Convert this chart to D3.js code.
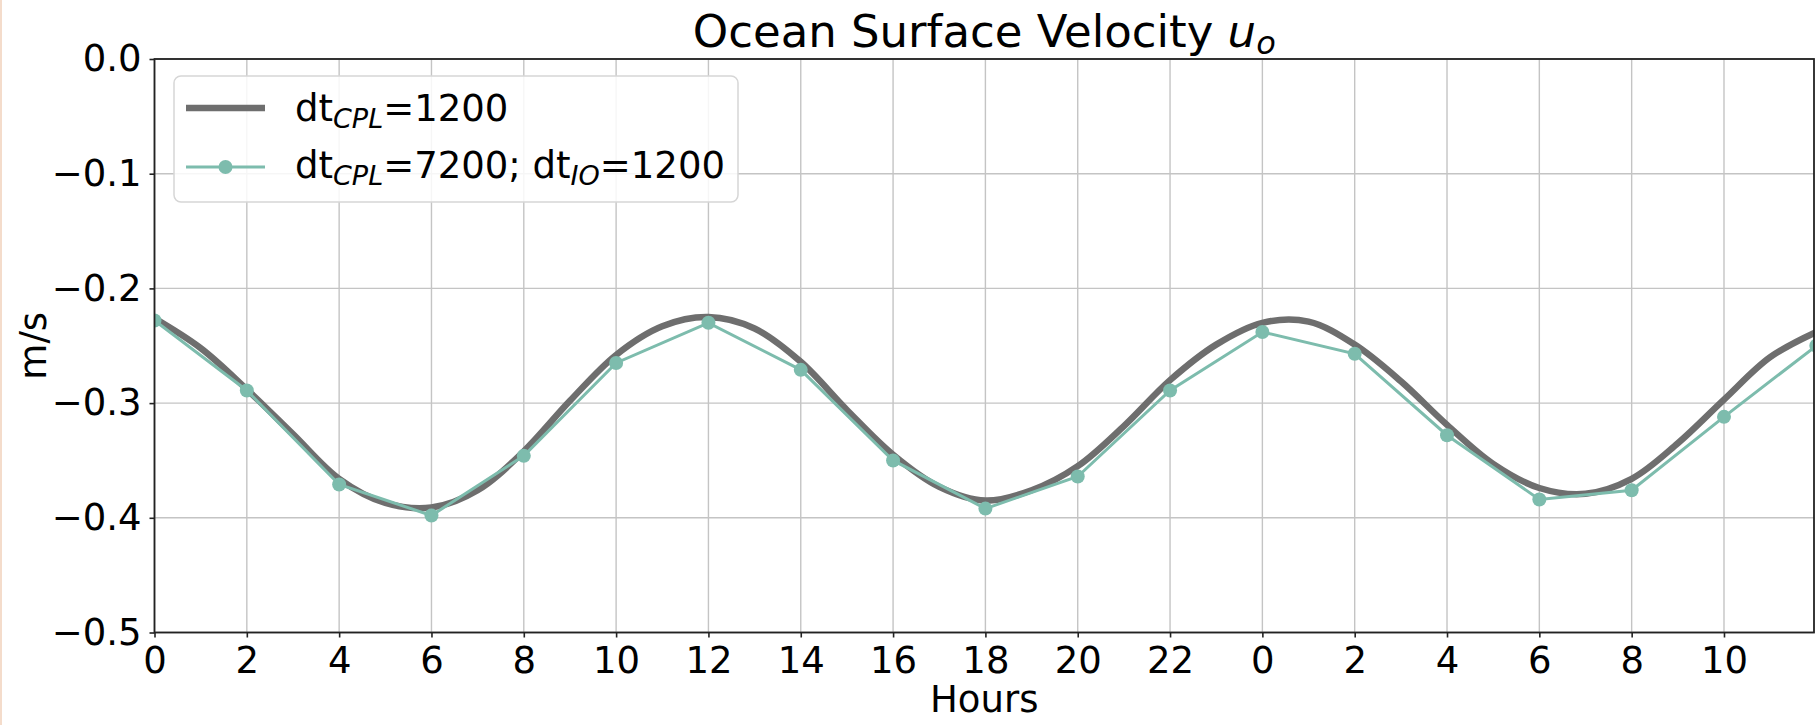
<!DOCTYPE html>
<html>
<head>
<meta charset="utf-8">
<script src="https://cdn.jsdelivr.net/npm/d3@7"></script>
<style>
  html, body { margin: 0; padding: 0; background: #fff; }
  svg { display: block; }
  text { font-family: "DejaVu Sans", sans-serif; fill: #000; }
</style>
</head>
<body>
<svg id="chart" width="1816" height="725"></svg>
<script>
// ---------- data ----------
const greyHours = [0,1,2,3,4,5,6,7,8,9,10,11,12,13,14,15,16,17,18,19,20,21,22,23,24,25,26,27,28,29,30,31,32,33,34,35,36];
const greyValues = [-0.226,-0.252,-0.288,-0.327,-0.366,-0.387,-0.391,-0.376,-0.342,-0.298,-0.258,-0.233,-0.225,-0.235,-0.264,-0.306,-0.345,-0.373,-0.385,-0.376,-0.355,-0.320,-0.280,-0.249,-0.230,-0.229,-0.249,-0.281,-0.319,-0.353,-0.374,-0.379,-0.366,-0.335,-0.297,-0.260,-0.238];
const tealHours = [0,2,4,6,8,10,12,14,16,18,20,22,24,26,28,30,32,34,36];
const tealValues = [-0.228,-0.289,-0.371,-0.398,-0.346,-0.265,-0.230,-0.271,-0.350,-0.392,-0.364,-0.289,-0.238,-0.257,-0.328,-0.384,-0.376,-0.312,-0.250];
const xTickValues = [0,2,4,6,8,10,12,14,16,18,20,22,24,26,28,30,32,34];
const xTickLabels = ["0","2","4","6","8","10","12","14","16","18","20","22","0","2","4","6","8","10"];
const yTickValues = [0,-0.1,-0.2,-0.3,-0.4,-0.5];
const yTickLabels = ["0.0","\u22120.1","\u22120.2","\u22120.3","\u22120.4","\u22120.5"];

// ---------- layout ----------
const L = 154.5, R = 1814, T = 59, B = 632.5;
const GREY = "#6e6e6e", TEAL = "#7dbcad";
const FS = 37;

const svg = d3.select("#chart");
svg.append("rect").attr("x",0).attr("y",0).attr("width",2).attr("height",725).attr("fill","#f4dccb");

const x = d3.scaleLinear().domain([0, 35.95]).range([L, R]);
const y = d3.scaleLinear().domain([-0.5, 0]).range([B, T]);

// grid
const grid = svg.append("g");
grid.selectAll("line.vx").data(xTickValues).enter().append("line")
  .attr("x1", d => x(d)).attr("x2", d => x(d)).attr("y1", T).attr("y2", B)
  .attr("stroke", "#c4c4c4").attr("stroke-width", 1.4);
grid.selectAll("line.hy").data(yTickValues).enter().append("line")
  .attr("x1", L).attr("x2", R).attr("y1", d => y(d)).attr("y2", d => y(d))
  .attr("stroke", "#c4c4c4").attr("stroke-width", 1.4);

// clip
svg.append("clipPath").attr("id","clip").append("rect")
  .attr("x", L).attr("y", T).attr("width", R - L).attr("height", B - T);

const plot = svg.append("g").attr("clip-path","url(#clip)");

const greyData = greyHours.map((h,i) => [h, greyValues[i]]);
const tealData = tealHours.map((h,i) => [h, tealValues[i]]);

plot.append("path").datum(greyData)
  .attr("d", d3.line().x(d => x(d[0])).y(d => y(d[1])).curve(d3.curveCatmullRom.alpha(0.5)))
  .attr("fill","none").attr("stroke",GREY).attr("stroke-width",6.5).attr("stroke-linecap","round");

plot.append("path").datum(tealData)
  .attr("d", d3.line().x(d => x(d[0])).y(d => y(d[1])))
  .attr("fill","none").attr("stroke",TEAL).attr("stroke-width",3);

plot.selectAll("circle.pt").data(tealData).enter().append("circle")
  .attr("cx", d => x(d[0])).attr("cy", d => y(d[1])).attr("r", 7).attr("fill", TEAL);

// axes
const xAxis = d3.axisBottom(x).tickValues(xTickValues)
  .tickFormat((d,i) => xTickLabels[i]).tickSize(5).tickPadding(9).tickSizeOuter(0);
const yAxis = d3.axisLeft(y).tickValues(yTickValues)
  .tickFormat((d,i) => yTickLabels[i]).tickSize(5).tickPadding(8).tickSizeOuter(0);

const gx = svg.append("g").attr("transform", `translate(0,${B})`).call(xAxis);
const gy = svg.append("g").attr("transform", `translate(${L},0)`).call(yAxis);
[gx, gy].forEach(g => {
  g.select(".domain").remove();
  g.selectAll(".tick line").attr("stroke","#222").attr("stroke-width",1.6);
  g.selectAll(".tick text").attr("font-family","DejaVu Sans").attr("font-size",FS).attr("fill","#000");
});

// spines
svg.append("rect").attr("x",L).attr("y",T).attr("width",R-L).attr("height",B-T)
  .attr("fill","none").attr("stroke","#222").attr("stroke-width",1.8);

// title
const title = svg.append("text").attr("x",(L+R)/2).attr("y",46.5).attr("text-anchor","middle").attr("font-size",45);
title.append("tspan").text("Ocean Surface Velocity ");
title.append("tspan").attr("font-style","italic").text("u");
title.append("tspan").attr("font-style","italic").attr("font-size",32).attr("dy",7).text("o");

// axis labels
svg.append("text").attr("x",(L+R)/2).attr("y",712).attr("text-anchor","middle").attr("font-size",FS).text("Hours");
svg.append("text").attr("transform",`translate(46,${(T+B)/2}) rotate(-90)`).attr("text-anchor","middle").attr("font-size",FS).text("m/s");

// legend
const lg = svg.append("g");
lg.append("rect").attr("x",174).attr("y",76).attr("width",564).attr("height",126).attr("rx",7)
  .attr("fill","#fff").attr("fill-opacity",0.85).attr("stroke","#d6d6d6").attr("stroke-width",1.5);
lg.append("line").attr("x1",186).attr("x2",265).attr("y1",108).attr("y2",108).attr("stroke",GREY).attr("stroke-width",6.5);
lg.append("line").attr("x1",186).attr("x2",265).attr("y1",167).attr("y2",167).attr("stroke",TEAL).attr("stroke-width",3);
lg.append("circle").attr("cx",225.5).attr("cy",167).attr("r",7).attr("fill",TEAL);

function sub(t, s) {
  t.append("tspan").attr("font-style","italic").attr("font-size",27).attr("dy",7).text(s);
}
const t1 = lg.append("text").attr("x",295).attr("y",121).attr("font-size",FS);
t1.append("tspan").text("dt");
sub(t1, "CPL");
t1.append("tspan").attr("dy",-7).text("=1200");

const t2 = lg.append("text").attr("x",295).attr("y",178).attr("font-size",FS);
t2.append("tspan").text("dt");
sub(t2, "CPL");
t2.append("tspan").attr("dy",-7).text("=7200; dt");
sub(t2, "IO");
t2.append("tspan").attr("dy",-7).text("=1200");
</script>
</body>
</html>
